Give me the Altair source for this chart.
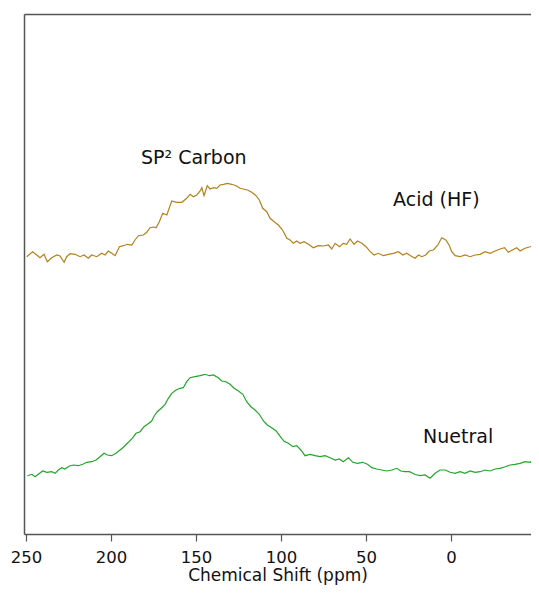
import altair as alt
import pandas as pd

# Acid (HF) spectrum: chemical shift (ppm) and intensity (arb. units, offset trace)
acid_ppm = [249.6, 246.1, 243.7, 241.8, 239.4, 237.5, 234.9, 231.9, 230.0, 227.6, 226.1, 224.1,
            221.2, 218.2, 215.9, 213.4, 211.4, 208.4, 205.5, 203.5, 201.6, 199.6, 197.6, 195.1,
            192.8, 190.4, 187.8, 185.9, 183.9, 181.0, 179.0, 177.1, 175.1, 173.5, 171.6, 169.6,
            167.2, 164.3, 161.4, 158.4, 155.5, 153.5, 151.6, 149.6, 147.6, 146.6, 145.3, 143.4,
            141.8, 139.8, 137.8, 135.9, 133.9, 131.6, 129.0, 126.5, 124.1, 122.2, 119.8, 117.2,
            114.7, 112.8, 110.8, 108.4, 106.5, 104.1, 101.6, 99.6, 98.6, 96.6, 94.7, 92.8,
            90.8, 88.8, 86.5, 83.9, 81.0, 78.1, 75.1, 72.2, 70.2, 68.2, 65.7, 63.4,
            61.4, 59.4, 57.1, 55.1, 52.5, 50.0, 47.6, 45.3, 42.8, 39.8, 36.9, 33.9,
            31.0, 28.4, 26.1, 24.1, 21.2, 19.2, 17.2, 14.9, 12.9, 10.4, 7.8, 5.5,
            3.1, 1.2, -0.4, -2.4, -5.3, -8.2, -11.2, -14.1, -17.1, -20.0, -22.9, -25.9,
            -28.8, -31.4, -33.7, -36.1, -38.6, -40.6, -43.5, -46.5, -49.4, -51.4]
acid_int = [277.3, 282.3, 279.0, 276.3, 279.7, 272.3, 276.3, 279.0, 278.0, 271.7, 277.3, 280.3,
            279.7, 277.3, 279.0, 275.7, 279.0, 277.3, 280.7, 279.0, 283.0, 280.7, 278.3, 287.3,
            288.3, 289.7, 289.0, 294.0, 298.3, 299.0, 301.7, 306.3, 307.0, 306.3, 312.3, 320.7,
            319.0, 333.0, 331.7, 331.7, 335.7, 339.7, 337.3, 339.0, 343.0, 346.3, 338.3, 348.3,
            345.0, 346.3, 345.7, 349.0, 349.7, 350.7, 349.7, 348.3, 345.7, 345.0, 344.0, 341.7,
            338.3, 334.0, 325.7, 322.3, 315.7, 312.3, 309.0, 305.0, 302.3, 295.7, 294.0, 290.7,
            293.0, 290.7, 292.3, 289.7, 286.3, 288.3, 288.0, 289.0, 285.0, 290.7, 287.3, 290.7,
            289.7, 295.0, 289.7, 293.0, 290.7, 287.3, 282.3, 279.0, 280.7, 278.3, 279.7, 280.7,
            282.3, 279.0, 280.7, 278.5, 275.7, 279.0, 277.3, 279.0, 283.0, 284.0, 289.0, 296.3,
            294.0, 289.0, 282.3, 278.3, 277.3, 279.0, 277.3, 279.0, 279.7, 282.3, 280.7, 283.0,
            285.0, 286.3, 281.7, 284.0, 286.3, 283.0, 285.7, 287.3, 289.0, 288.3]

# Neutral spectrum
neutral_ppm = [249.2, 246.6, 244.7, 242.8, 240.2, 237.8, 234.9, 232.9, 231.0, 229.0, 227.1, 224.5,
               222.2, 219.2, 216.3, 214.3, 211.4, 208.8, 206.5, 204.1, 202.2, 199.6, 197.1, 194.7,
               192.4, 189.8, 187.2, 185.3, 182.9, 180.6, 178.6, 176.1, 174.7, 172.8, 170.2, 168.2,
               166.3, 164.3, 161.8, 159.4, 157.5, 155.5, 153.5, 150.6, 147.6, 144.7, 142.2, 139.8,
               136.9, 134.9, 132.4, 130.0, 127.6, 125.1, 122.5, 120.2, 117.8, 115.3, 112.8, 110.4,
               108.1, 105.5, 102.9, 100.2, 98.2, 95.7, 93.1, 90.8, 88.4, 85.9, 82.9, 80.0,
               77.1, 74.1, 71.2, 68.2, 65.7, 63.4, 60.4, 57.8, 55.1, 52.0, 49.2, 46.6,
               43.7, 40.8, 37.8, 34.9, 31.9, 29.6, 27.1, 24.5, 21.2, 18.2, 15.3, 12.4,
               9.4, 6.5, 3.5, 0.6, -2.4, -5.3, -8.2, -11.2, -14.1, -17.1, -20.0, -22.9,
               -25.9, -28.8, -31.8, -34.7, -37.6, -40.6, -43.5, -46.5, -49.4, -51.4]
neutral_int = [58.3, 59.7, 57.3, 59.7, 63.0, 61.7, 62.3, 60.7, 64.0, 66.3, 65.0, 68.0,
               69.0, 68.3, 70.0, 71.7, 72.3, 74.0, 77.3, 80.7, 79.0, 78.3, 80.7, 84.0,
               87.3, 91.7, 96.3, 100.7, 102.3, 107.3, 109.7, 113.0, 117.8, 122.3, 126.3, 129.7,
               135.7, 140.7, 144.0, 145.7, 146.3, 152.3, 156.3, 157.3, 158.3, 159.7, 158.3, 159.0,
               156.3, 153.0, 152.3, 149.7, 145.7, 143.0, 139.7, 132.3, 127.3, 124.0, 119.7, 113.0,
               109.0, 106.3, 103.0, 96.8, 92.7, 90.7, 87.3, 88.3, 84.0, 78.3, 79.7, 78.3,
               77.3, 78.3, 76.3, 74.0, 75.0, 72.3, 76.3, 71.7, 70.7, 71.7, 69.7, 66.3,
               65.0, 64.0, 63.0, 64.0, 65.7, 63.0, 62.3, 62.3, 59.5, 58.3, 59.0, 55.7,
               60.7, 64.0, 64.0, 61.7, 60.7, 62.3, 60.7, 63.0, 61.7, 62.3, 64.0, 63.0,
               65.0, 65.7, 67.3, 69.0, 69.7, 70.7, 72.3, 71.7, 75.7, 77.3]

series_names = ["Acid (HF)", "Neutral"]
series_colors = ["#B5811C", "#22A62A"]

# annotation labels (ppm, intensity)
label_text = ["SP² Carbon", "Acid (HF)", "Nuetral"]
label_ppm = [182.4, 34.1, 16.5]
label_int = [376, 334, 97]

x_ticks = [250, 200, 150, 100, 50, 0]
x_domain = [251.2, -47.0]
y_domain = [0, 520]

df = pd.concat([
    pd.DataFrame({"ppm": acid_ppm, "intensity": acid_int, "series": series_names[0]}),
    pd.DataFrame({"ppm": neutral_ppm, "intensity": neutral_int, "series": series_names[1]}),
])
labels = pd.DataFrame({"text": label_text, "ppm": label_ppm, "intensity": label_int})

FONT = "DejaVu Sans"
FRAME = "#555555"

x_scale = alt.Scale(domain=x_domain, nice=False, zero=False)
y_scale = alt.Scale(domain=y_domain, nice=False, zero=False)

y_axis = alt.Axis(labels=False, ticks=False, grid=False, title=None)

x_bottom = alt.X("ppm:Q", scale=x_scale,
                 axis=alt.Axis(orient="bottom", values=x_ticks, title="Chemical Shift (ppm)",
                               grid=False, tickSize=7, tickColor=FRAME, tickWidth=1.2,
                               labelFontSize=16.5, labelFont=FONT,
                               labelColor="#111111", labelPadding=8, titleFontSize=17,
                               titleFont=FONT, titleFontWeight="normal", titleColor="#111111",
                               titlePadding=2, labelFlush=False))

lines = alt.Chart(df).mark_line(strokeWidth=1.2, clip=True).encode(
    x=x_bottom,
    y=alt.Y("intensity:Q", scale=y_scale, axis=y_axis),
    color=alt.Color("series:N", scale=alt.Scale(domain=series_names, range=series_colors), legend=None),
    detail="series:N",
)

top_frame = alt.Chart(df).mark_line(opacity=0, clip=True).encode(
    x=alt.X("ppm:Q", scale=x_scale,
            axis=alt.Axis(orient="top", labels=False, ticks=False, grid=False, title=None)),
    y=alt.Y("intensity:Q", scale=y_scale, axis=y_axis),
    detail="series:N",
)

texts = alt.Chart(labels).mark_text(align="left", baseline="middle", fontSize=19, font=FONT,
                                    color="#111111").encode(
    x=alt.X("ppm:Q", scale=x_scale, axis=None),
    y=alt.Y("intensity:Q", scale=y_scale, axis=y_axis),
    text="text:N")

chart = alt.layer(lines, top_frame, texts).resolve_axis(x="independent").properties(
    width=507, height=520,
    autosize=alt.AutoSizeParams(type="none"),
    padding={"left": 16, "top": 6, "right": 0, "bottom": 52},
).configure_view(stroke=None).configure(background="white").configure_axis(
    domainColor=FRAME, domainWidth=1.5, domainOpacity=1)

chart.save("out.html", embed_options={"renderer": "svg", "actions": False})
